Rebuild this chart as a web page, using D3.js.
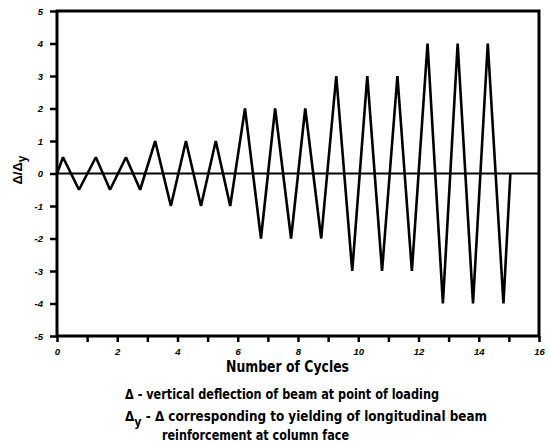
<!DOCTYPE html>
<html>
<head>
<meta charset="utf-8">
<script src="https://cdn.jsdelivr.net/npm/d3@7"></script>
<style>
  body { margin: 0; background: #fff; }
  svg { display: block; font-family: "Liberation Sans", Arial, sans-serif; }
  .tick text { font-size: 9.5px; font-weight: bold; font-style: italic; }
</style>
</head>
<body>
<svg id="chart" width="549" height="445"></svg>
<script>
// loading history: turning points of the displacement ratio
var cycleX = [0, 0.2, 0.73, 1.29, 1.76, 2.29, 2.76, 3.26, 3.78, 4.28, 4.78, 5.27, 5.75,
	6.24, 6.77, 7.24, 7.77, 8.24, 8.77, 9.27, 9.8, 10.3, 10.79, 11.3, 11.78,
	12.3, 12.81, 13.3, 13.81, 14.3, 14.82, 15.05];
var ratioY = [0, 0.5, -0.5, 0.5, -0.5, 0.5, -0.5, 1, -1, 1, -1, 1, -1,
	2, -2, 2, -2, 2, -2, 3, -3, 3, -3, 3, -3,
	4, -4, 4, -4, 4, -4, 0];
var xTicks = [0, 1, 2, 3, 4, 5, 6, 7, 8, 9, 10, 11, 12, 13, 14, 15, 16];
var yTicks = [-5, -4, -3, -2, -1, 0, 1, 2, 3, 4, 5];
var xTitle = "Number of Cycles";

var svg = d3.select("#chart"),
	LEFT = 57, RIGHT = 539, TOP = 11, BOTTOM = 336;

var x = d3.scaleLinear().domain([0, 16]).range([LEFT, RIGHT]),
	y = d3.scaleLinear().domain([-5, 5]).range([BOTTOM, TOP]);

var points = cycleX.map(function(d, i) { return [d, ratioY[i]]; });

// zero line
svg.append("line")
	.attr("x1", x(0)).attr("x2", x(16))
	.attr("y1", y(0)).attr("y2", y(0))
	.attr("stroke", "#000").attr("stroke-width", 1.8);

// history trace
svg.append("path")
	.datum(points)
	.attr("fill", "none")
	.attr("stroke", "#000")
	.attr("stroke-width", 2.6)
	.attr("stroke-linejoin", "bevel")
	.attr("d", d3.line().x(function(d) { return x(d[0]); }).y(function(d) { return y(d[1]); }));

// frame
svg.append("rect")
	.attr("x", LEFT).attr("y", TOP)
	.attr("width", RIGHT - LEFT).attr("height", BOTTOM - TOP)
	.attr("fill", "none").attr("stroke", "#000").attr("stroke-width", 3);

var xAxis = svg.append("g")
	.attr("transform", "translate(0," + BOTTOM + ")")
	.call(d3.axisBottom(x).tickValues(xTicks).tickSize(6).tickPadding(6)
		.tickFormat(function(d) { return d % 2 ? "" : d; }));

var yAxis = svg.append("g")
	.attr("transform", "translate(" + LEFT + ",0)")
	.call(d3.axisLeft(y).tickValues(yTicks).tickSize(7).tickPadding(7)
		.tickFormat(function(d) { return d < 0 ? "-" + Math.abs(d) : d; }));

[xAxis, yAxis].forEach(function(g) {
	g.select(".domain").remove();
	g.selectAll(".tick line").attr("stroke", "#000").attr("stroke-width", 2.5);
	g.selectAll(".tick text").attr("fill", "#000");
});

// y title, rotated
var yt = svg.append("text")
	.attr("transform", "translate(22,170) rotate(-90)")
	.attr("text-anchor", "middle")
	.attr("font-size", 13).attr("font-weight", "bold");
yt.append("tspan").text("\u0394/\u0394");
yt.append("tspan").attr("font-size", 12).attr("dy", 4).text("y");

// wide heavy lettering as in the scanned figure
svg.append("text")
	.attr("x", 226).attr("y", 372)
	.attr("font-family", "'DejaVu Sans', sans-serif")
	.attr("font-size", 15).attr("font-weight", "bold")
	.attr("textLength", 123).attr("lengthAdjust", "spacingAndGlyphs")
	.text(xTitle);

// definitions under the chart
var notes = svg.append("g")
	.attr("font-family", "'DejaVu Sans', sans-serif")
	.attr("font-size", 14).attr("font-weight", "bold");
notes.append("text").attr("x", 125).attr("y", 399)
	.attr("textLength", 314).attr("lengthAdjust", "spacingAndGlyphs")
	.text("\u0394 - vertical deflection of beam at point of loading");
var n2 = notes.append("text").attr("x", 125).attr("y", 421)
	.attr("textLength", 362).attr("lengthAdjust", "spacingAndGlyphs");
n2.append("tspan").text("\u0394");
n2.append("tspan").attr("dy", 5).attr("font-size", 13).text("y");
n2.append("tspan").attr("dy", -5).text(" - \u0394 corresponding to yielding of longitudinal beam");
notes.append("text").attr("x", 162).attr("y", 440)
	.attr("textLength", 187).attr("lengthAdjust", "spacingAndGlyphs")
	.text("reinforcement at column face");
</script>
</body>
</html>
